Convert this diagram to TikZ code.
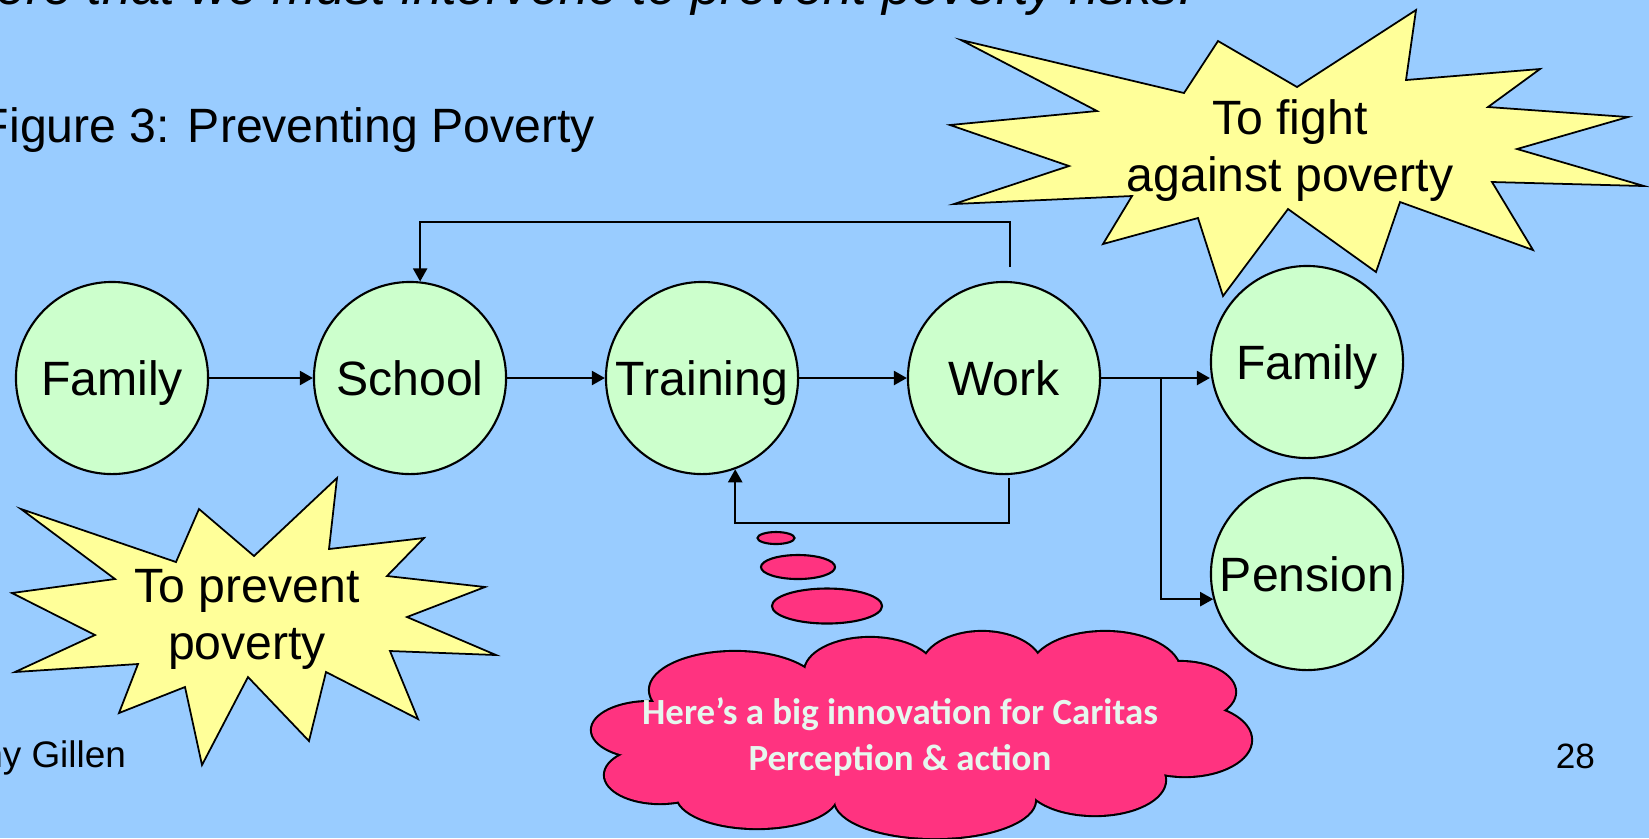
\documentclass[tikz,border=0pt]{standalone}
\usepackage{fontspec}
\setmainfont{Liberation Sans}
\newfontfamily\cloudfont{Carlito}
\usetikzlibrary{arrows.meta,shapes.geometric}
\definecolor{slideblue}{HTML}{99CCFF}
\definecolor{stagegreen}{HTML}{CCFFCC}
\definecolor{burstyellow}{HTML}{FFFF99}
\definecolor{cloudpink}{HTML}{FF3380}
\definecolor{cloudtext}{HTML}{E6F7EE}
\tikzset{
  stage/.style={circle,draw,fill=stagegreen,minimum size=1.92cm,inner sep=0pt,text height=0.34cm,text depth=0pt,font=\fontsize{13.7}{16.4}\selectfont},
  burst/.style={draw,fill=burstyellow,line width=0.5pt,line join=miter},
  bubble/.style={ellipse,draw,fill=cloudpink,inner sep=0pt},
  bigtext/.style={font=\fontsize{13.7}{16.2}\selectfont,align=center,inner sep=0pt},
  plaintext/.style={anchor=base east,inner sep=0pt}
}

\begin{document}
\begin{tikzpicture}[x=0.01cm,y=-0.01cm,line width=0.6pt,>={Triangle[length=3.7pt,width=4pt]}]
        \useasboundingbox (0,0) rectangle (1649,838);
        \fill[slideblue] (0,0) rectangle (1649,838);
        \node[plaintext,font=\fontsize{15}{18}\selectfont\itshape] (intro) at (1194,4) {ere that we must intervene to prevent poverty risks.};
        \node[plaintext,font=\fontsize{13.7}{16}\selectfont] (title) at (596,142) {Figure 3: Preventing Poverty};
        \draw[burst] (961,40) -- (1184,93) -- (1218,41) -- (1297,87) -- (1416,10) -- (1406,80) -- (1540,69) -- (1488,107) -- (1628,117) -- (1517,149) -- (1644,186) -- (1492,182) -- (1533,250) -- (1400,202) -- (1376,272) -- (1288,209) -- (1223,296) -- (1198,218) -- (1103,244) -- (1132,196) -- (954,204) -- (1069,166) -- (950,125) -- (1097,111) -- cycle;
        \node[bigtext] (fight) at (1290,151) {To fight\\against poverty};
        \draw[burst] (21,509) -- (176,562) -- (199,509) -- (254,556) -- (337,478) -- (329,549) -- (424,538) -- (387,576) -- (485,587) -- (407,617) -- (496,655) -- (390,651) -- (418,719) -- (326,672) -- (309,741) -- (248,677) -- (202,765) -- (185,687) -- (119,713) -- (138,664) -- (15,672) -- (95,635) -- (12,593) -- (115,579) -- cycle;
        \node[bigtext] (prevent) at (247,619) {To prevent\\poverty};
        \node[stage] (family) at (112,378) {Family};
        \node[stage] (school) at (410,378) {School};
        \node[stage] (training) at (702,378) {Training};
        \node[stage] (work) at (1004,378) {Work};
        \node[stage] (newfamily) at (1307,362) {Family};
        \node[stage] (pension) at (1307,574) {Pension};
        \coordinate (split) at (1161,378);
        \coordinate (worktop) at (1010,267);
        \coordinate (workbottom) at (1009,478);
        \draw[->] (family) -- (school);
        \draw[->] (school) -- (training);
        \draw[->] (training) -- (work);
        \draw[->] (work.east) -- (work.east -| newfamily.west);
        \draw[->] (split) |- (pension.195);
        \draw[->] (worktop) -- ++(0,-45) -| (school.84);
        \draw[->] (workbottom) -- ++(0,45) -| (training.-70);
        \node[bubble,minimum width=0.37cm,minimum height=0.12cm] (bubble1) at (776,538) {};
        \node[bubble,minimum width=0.74cm,minimum height=0.24cm] (bubble2) at (798,567) {};
        \node[bubble,minimum width=1.10cm,minimum height=0.35cm] (bubble3) at (827,606) {};
        \foreach \cx/\cy/\rx/\ry in {735/690/0.85/0.38, 870/672/0.65/0.34, 982/668/0.60/0.36, 1105/672/0.75/0.40, 1180/692/0.55/0.30, 1185/740/0.66/0.36, 1095/780/0.70/0.35, 935/800/1.00/0.38, 757/795/0.80/0.33, 660/775/0.55/0.28, 650/730/0.58/0.28}
          \draw[fill=cloudpink,line width=1.2pt] (\cx,\cy) ellipse [x radius=\rx cm,y radius=\ry cm];
        \foreach \cx/\cy/\rx/\ry in {735/690/0.85/0.38, 870/672/0.65/0.34, 982/668/0.60/0.36, 1105/672/0.75/0.40, 1180/692/0.55/0.30, 1185/740/0.66/0.36, 1095/780/0.70/0.35, 935/800/1.00/0.38, 757/795/0.80/0.33, 660/775/0.55/0.28, 650/730/0.58/0.28, 920/735/2.60/0.70}
          \fill[cloudpink] (\cx,\cy) ellipse [x radius=\rx cm,y radius=\ry cm];
        \node[font=\cloudfont\bfseries\fontsize{10.5}{13.1}\selectfont,text=cloudtext,align=center,inner sep=0pt] (idea) at (900,737) {Here’s a big innovation for Caritas\\Perception \& action};
        \node[plaintext,font=\fontsize{10.5}{12}\selectfont] (author) at (127,767) {ny Gillen};
        \node[plaintext,font=\fontsize{10}{12}\selectfont] (page) at (1596,768) {28};
\end{tikzpicture}
\end{document}
